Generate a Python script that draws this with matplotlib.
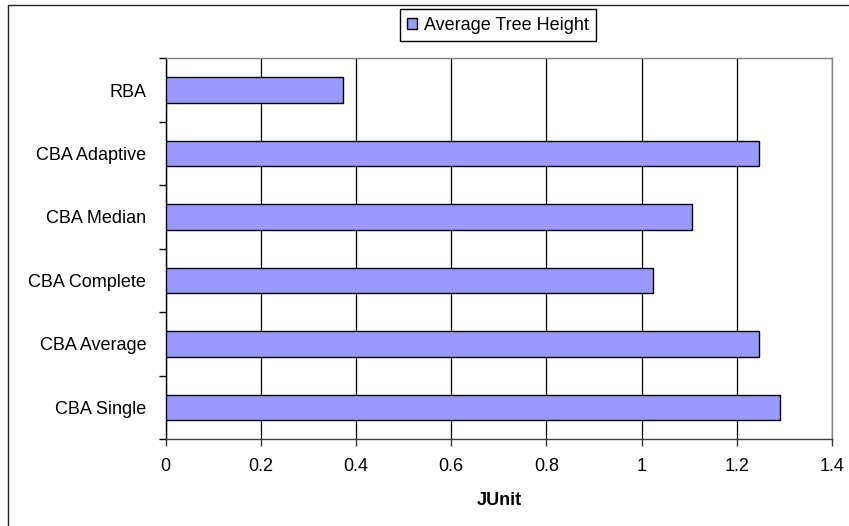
import matplotlib as mpl
import matplotlib.pyplot as plt
import numpy as np
from matplotlib.patches import Rectangle

# bottom to top, as they appear on the axis
methods = ["CBA Single", "CBA Average", "CBA Complete", "CBA Median", "CBA Adaptive", "RBA"]
tree_height = [1.29, 1.247, 1.023, 1.106, 1.247, 0.373]
x_ticks = [0, 0.2, 0.4, 0.6, 0.8, 1, 1.2, 1.4]
x_ticklabels = ["0", "0.2", "0.4", "0.6", "0.8", "1", "1.2", "1.4"]

mpl.rc('font', family=['Liberation Sans', 'DejaVu Sans'], size=13)

fig = plt.figure(figsize=(8.49, 5.26), dpi=100)
W, H = 849, 526

# chart-area frame (runs off the right and bottom edge)
fig.patches.append(Rectangle((8 / W, -0.1), 1.2, 1 - 5 / H + 0.1, transform=fig.transFigure,
                             fill=False, edgecolor="#222222", linewidth=1.0))

ax = fig.add_axes([165.7 / W, 1 - 439 / H, 666.3 / W, 380.7 / H])
y = np.arange(len(methods))
bars = ax.barh(y, tree_height, height=0.4, color="#9999ff", edgecolor="black", linewidth=1.0,
               label="Average Tree Height", zorder=3)

ax.set_xlim(0, 1.4)
ax.set_ylim(-0.5, len(methods) - 0.5)
ax.set_xticks(x_ticks)
ax.set_xticklabels(x_ticklabels)
ax.set_yticks(y)
ax.set_yticklabels(methods)
ax.set_yticks(np.arange(-0.5, len(methods)), minor=True)
ax.tick_params(axis="y", which="major", length=0, pad=14)
ax.tick_params(axis="y", which="minor", length=5, width=1.0, color="black", direction="out")
ax.tick_params(axis="x", which="major", length=5, width=1.0, color="#333333", direction="out", pad=9)

ax.xaxis.grid(True, color="black", linewidth=0.9, zorder=1)
ax.set_axisbelow(True)

ax.spines["left"].set_color("black")
ax.spines["bottom"].set_color("#404040")
ax.spines["top"].set_color("#808080")
ax.spines["right"].set_color("#808080")
for s in ax.spines.values():
    s.set_linewidth(1.0)

ax.set_xlabel("JUnit", fontweight="bold", labelpad=12)

leg = fig.legend(handles=[bars], loc="center", bbox_to_anchor=(498 / W, 1 - 25 / H),
                 fancybox=False, framealpha=1, edgecolor="black", borderpad=0.4,
                 handlelength=0.55, handleheight=0.55, handletextpad=0.4, borderaxespad=0)
leg.get_frame().set_linewidth(1.0)

fig.savefig("out.png", dpi=100)
